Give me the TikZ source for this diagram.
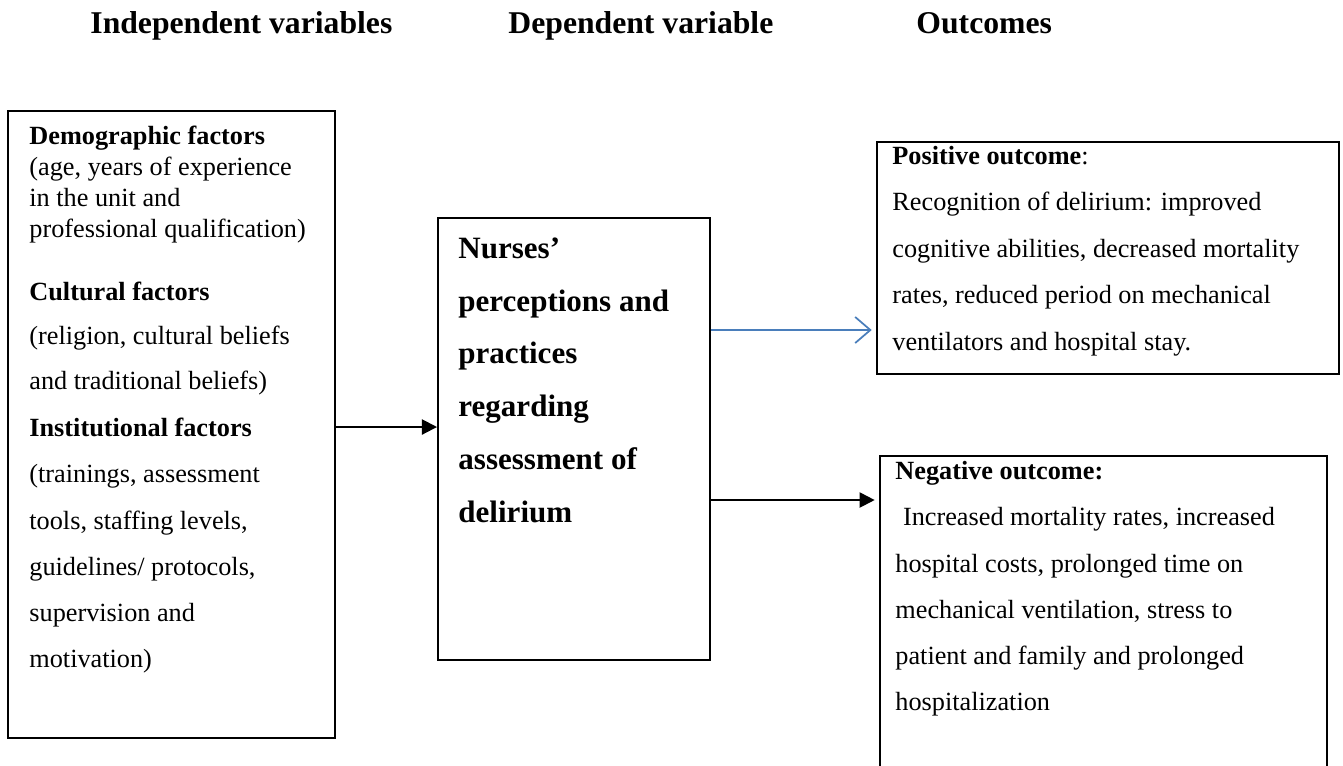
\documentclass[tikz,border=0pt]{standalone}
\usepackage{fontspec}
\setmainfont{Liberation Serif}
\usetikzlibrary{arrows.meta,fit}
\definecolor{arrowblue}{RGB}{74,126,187}
\tikzset{
  box/.style={draw, line width=0.9pt, inner sep=0pt},
  txt/.style={anchor=base west, inner sep=0pt, align=left, font=\fontsize{12.1}{14.2}\selectfont},
  head/.style={anchor=base west, inner sep=0pt, font=\fontsize{14.6}{16}\selectfont\bfseries},
  arr/.style={line width=0.9pt, -{Triangle[length=7pt,width=7pt]}},
  barb/.style={arrowblue, line width=0.8pt, -{Straight Barb[length=7pt,width=12pt]}}
}
\begin{document}
\begin{tikzpicture}[x=0.4608pt, y=-0.4608pt]
  \clip (0,0) rectangle (1343,765);
  % headings
  \node[head] (hindep) at (90,33) {Independent variables};
  \node[head] (hdep) at (508,33) {Dependent variable};
  \node[head] (hout) at (916,33) {Outcomes};
  % boxes
  \node[box, fit={(8,111) (335,738)}] (indep) {};
  \node[box, fit={(438,218) (710,660)}] (dep) {};
  \node[box, fit={(877,142) (1339,374)}] (pos) {};
  \node[box, fit={(880,456) (1327,800)}] (neg) {};
  % box texts (anchored on their last line)
  \node[txt] (indeptext) at (29,667) {\textbf{Demographic factors}\\(age, years of experience\\in the unit and\\professional qualification)\\[14.8pt]
    \textbf{Cultural factors}\\[6.5pt](religion, cultural beliefs\\[6.5pt]and traditional beliefs)\\[7.5pt]
    \textbf{Institutional factors}\\[7pt](trainings, assessment\\[7pt]tools, staffing levels,\\[7pt]guidelines/ protocols,\\[7pt]supervision and\\[7pt]motivation)};
  \node[txt, font=\fontsize{14.3}{24.3}\selectfont\bfseries] (deptext) at (458,522) {Nurses’\\perceptions and\\practices\\regarding\\assessment of\\delirium};
  \node[txt, font=\fontsize{12.1}{21.4}\selectfont] (postext) at (892,350) {\textbf{Positive outcome}:\\Recognition of delirium: improved\\cognitive abilities, decreased mortality\\rates, reduced period on mechanical\\ventilators and hospital stay.};
  \node[txt, font=\fontsize{12.1}{21.2}\selectfont] (negtext) at (895,710) {\textbf{Negative outcome:}\\\hspace*{3.5pt}Increased mortality rates, increased\\hospital costs, prolonged time on\\mechanical ventilation, stress to\\patient and family and prolonged\\hospitalization};
  % connectors
  \draw[arr] (indep.east |- 0,427) -- (dep.west |- 0,427);
  \draw[barb, shorten >=2pt] (dep.east |- 0,330) -- (pos.west |- 0,330);
  \draw[arr, shorten >=2pt] (dep.east |- 0,500) -- (neg.west |- 0,500);
\end{tikzpicture}
\end{document}
